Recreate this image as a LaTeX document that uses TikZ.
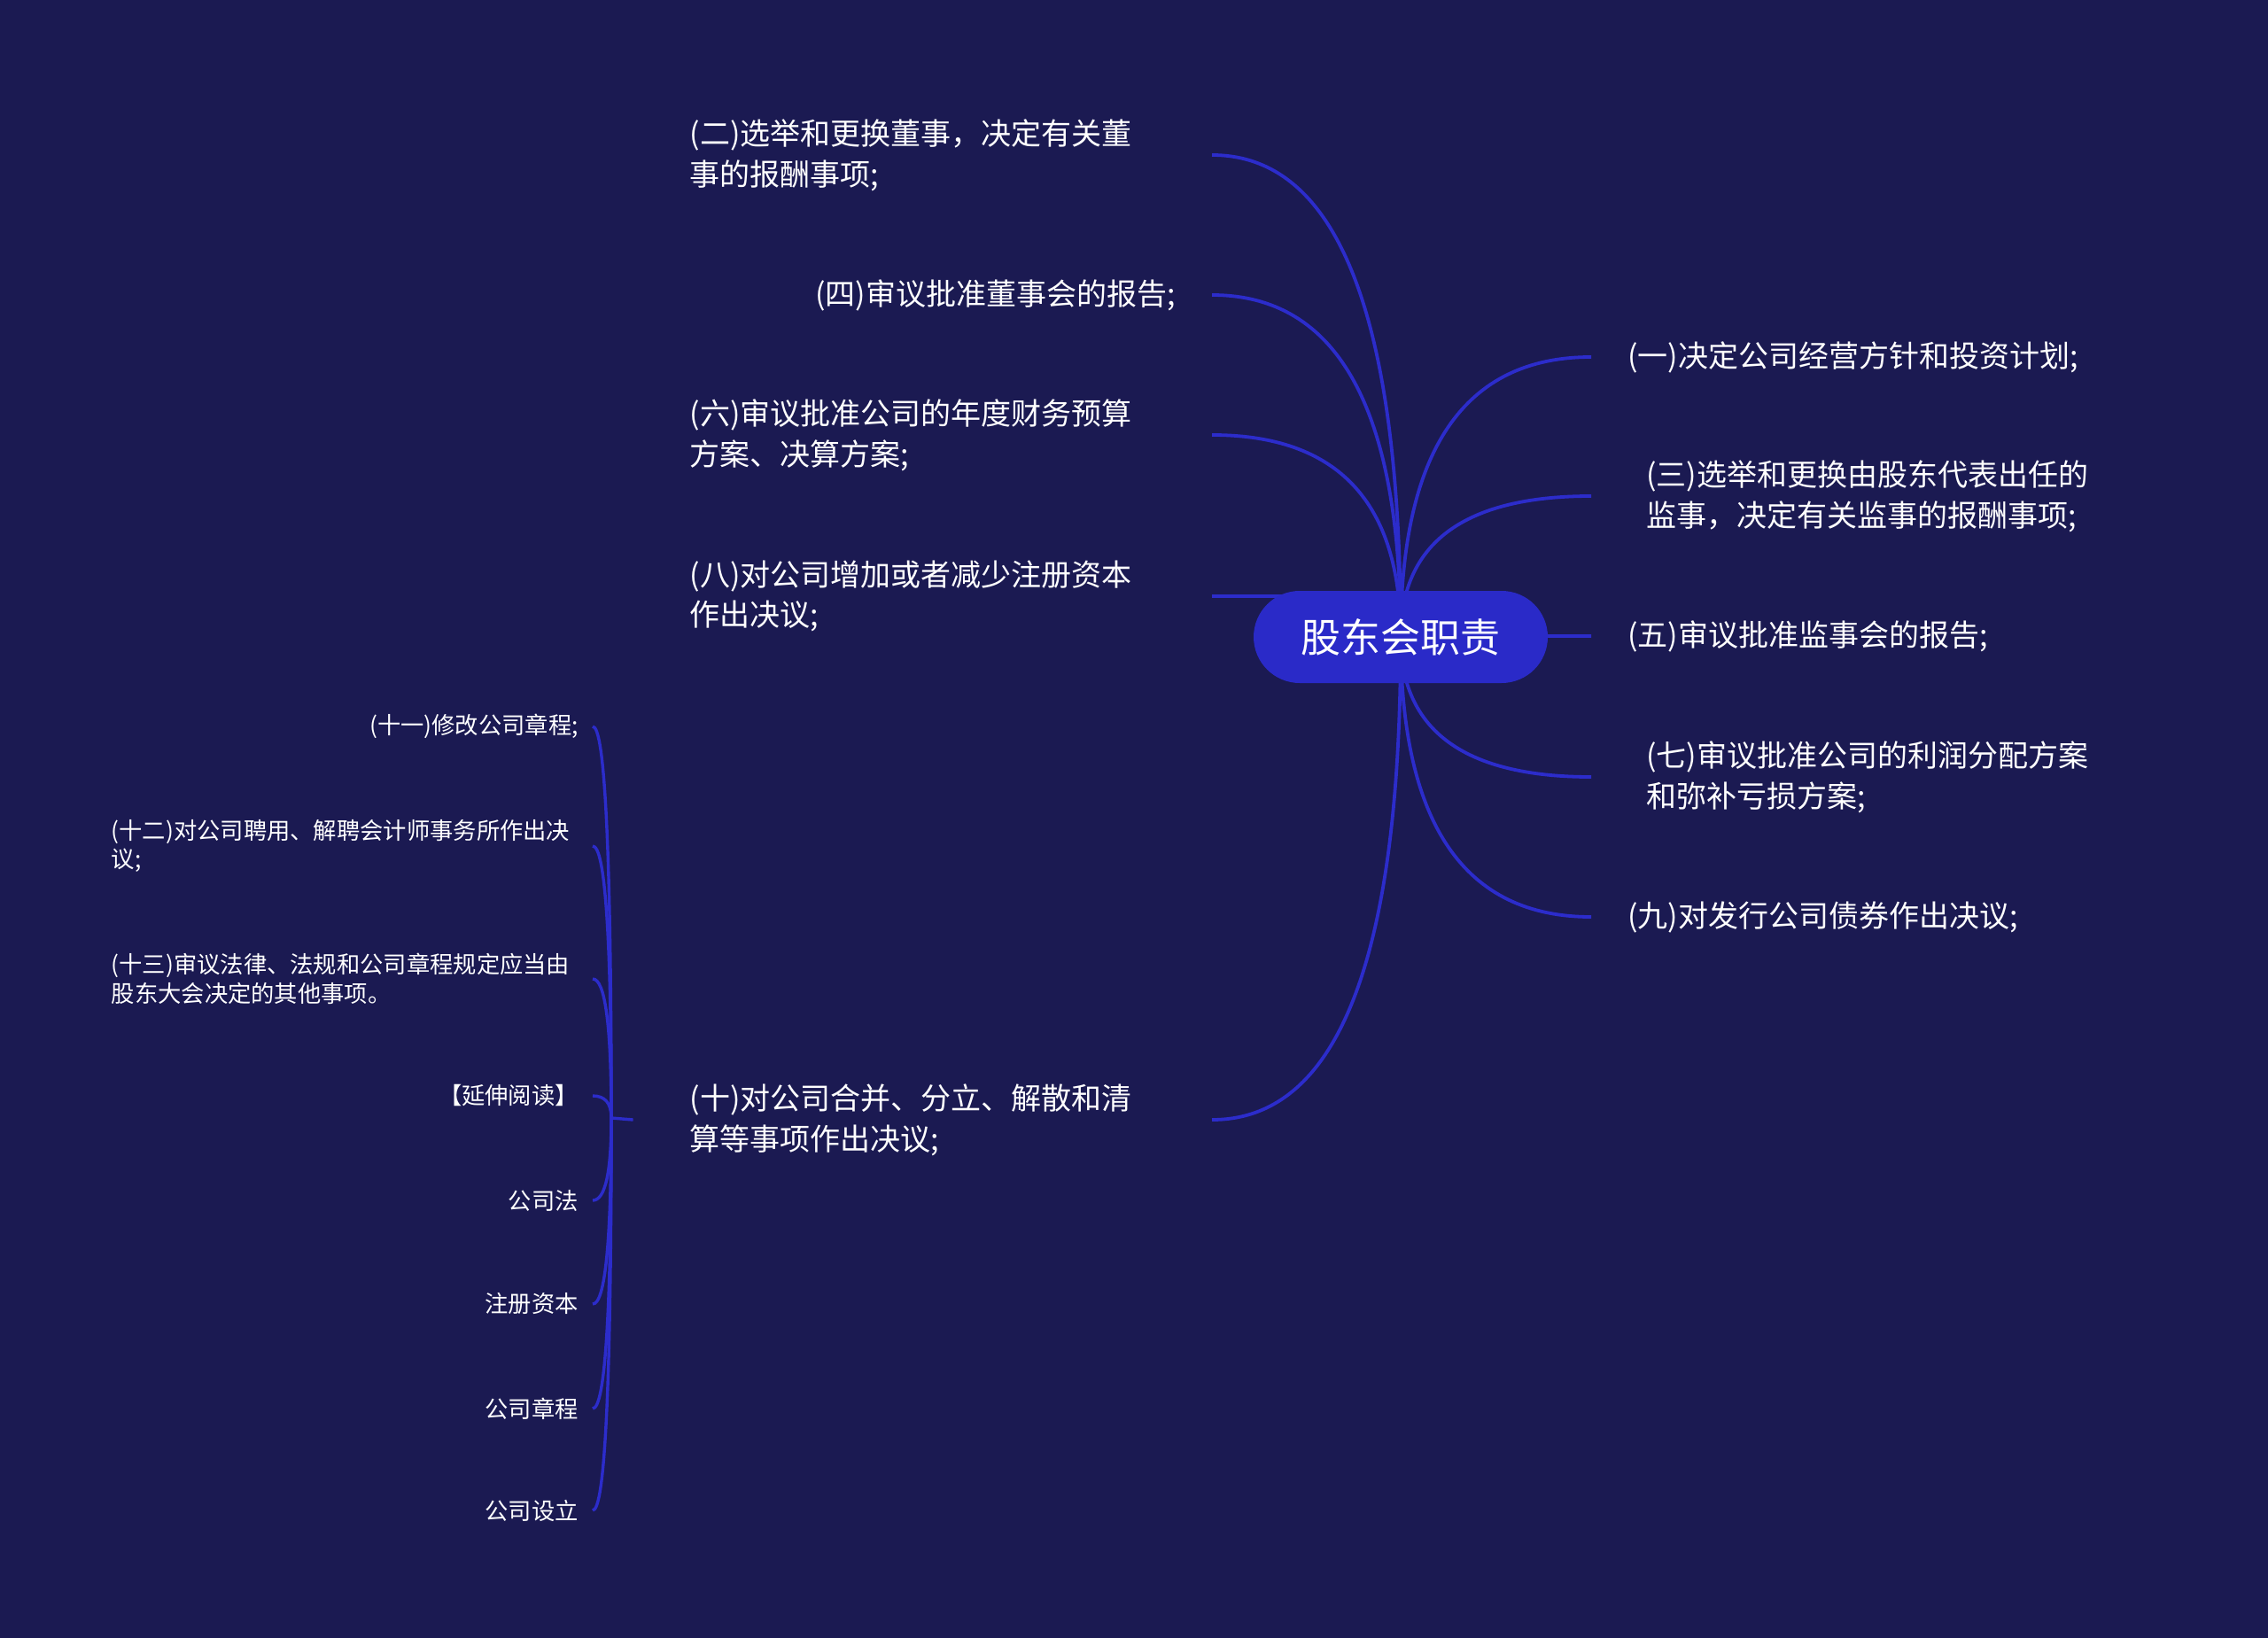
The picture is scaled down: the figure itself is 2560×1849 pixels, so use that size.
\documentclass[tikz,border=0pt]{standalone}
\usepackage{fontspec}
\usetikzlibrary{calc}
\setmainfont{Noto Sans CJK SC}
\definecolor{bgc}{HTML}{1B1A52}
\definecolor{lnc}{HTML}{2C2CCB}
\definecolor{pillc}{HTML}{2A2AC8}
\pgfdeclarelayer{bglayer}
\pgfdeclarelayer{edgelayer}
\pgfsetlayers{bglayer,edgelayer,main}
\begin{document}
\begin{tikzpicture}[x=1pt,y=-1pt,
  pill/.style={rectangle, rounded corners=52pt, fill=pillc, minimum width=332pt, minimum height=104pt, text=white, font=\fontsize{45}{52}\selectfont, inner sep=0pt},
  txtmain/.style={text=white, font=\fontsize{34}{45.7}\selectfont},
  itemL/.style={txtmain, anchor=east, inner xsep=64pt, text width=525pt, align=left},
  itemLs/.style={txtmain, anchor=east, inner xsep=41pt, align=right},
  itemR/.style={txtmain, anchor=west, inner xsep=41pt, align=left},
  itemRw/.style={txtmain, anchor=west, inner xsep=62pt, align=left},
  txtsmall/.style={text=white, font=\fontsize{26.3}{32.7}\selectfont},
  itemS/.style={txtsmall, anchor=east, inner xsep=16pt, align=right},
  itemSw/.style={txtsmall, anchor=east, inner xsep=16pt, text width=527pt, align=left},
  conn/.style={draw=lnc, line width=3.8pt},
  bconn/.style={draw=lnc, line width=3.4pt}
]
\useasboundingbox (0,0) rectangle (2560,1849);
\begin{pgfonlayer}{bglayer}
  \fill[bgc] (0,0) rectangle (2560,1849);
\end{pgfonlayer}

\node[pill] (c) at (1581,719) {股东会职责};

% left main items
\node[itemL] (n2) at (1368,175) {(二)选举和更换董事，决定有关董\\事的报酬事项;};
\node[itemLs] (n4) at (1368,333) {(四)审议批准董事会的报告;};
\node[itemL] (n6) at (1368,491) {(六)审议批准公司的年度财务预算\\方案、决算方案;};
\node[itemL] (n8) at (1368,673) {(八)对公司增加或者减少注册资本\\作出决议;};
\node[itemL] (n10) at (1368,1264) {(十)对公司合并、分立、解散和清\\算等事项作出决议;};

% right main items
\node[itemR] (n1) at (1796,403) {(一)决定公司经营方针和投资计划;};
\node[itemRw] (n3) at (1796,560) {(三)选举和更换由股东代表出任的\\监事，决定有关监事的报酬事项;};
\node[itemR] (n5) at (1796,718) {(五)审议批准监事会的报告;};
\node[itemRw] (n7) at (1796,877) {(七)审议批准公司的利润分配方案\\和弥补亏损方案;};
\node[itemR] (n9) at (1796,1035) {(九)对发行公司债券作出决议;};

% sub items
\coordinate (j) at (690,1262);
\node[itemS] (s11) at (669,820) {(十一)修改公司章程;};
\node[itemSw] (s12) at (669,955) {(十二)对公司聘用、解聘会计师事务所作出决\\议;};
\node[itemSw] (s13) at (669,1105) {(十三)审议法律、法规和公司章程规定应当由\\股东大会决定的其他事项。};
\node[itemS] (s14) at (669,1237) {【延伸阅读】};
\node[itemS] (s15) at (669,1355) {公司法};
\node[itemS] (s16) at (669,1472) {注册资本};
\node[itemS] (s17) at (669,1590) {公司章程};
\node[itemS] (s18) at (669,1705) {公司设立};

\begin{pgfonlayer}{edgelayer}
  \foreach \n in {n2,n4,n6,n10}{
    \draw[conn] (c.center) .. controls ($(c.center)!0.667!(c.center |- \n.east)$) and ($(\n.east)!0.667!(c.center |- \n.east)$) .. (\n.east);
  }
  \draw[conn] (c.center |- n8.east) -- (n8.east);
  \foreach \n in {n1,n3,n5,n7,n9}{
    \draw[conn] (c.center) .. controls ($(c.center)!0.667!(c.center |- \n.west)$) and ($(\n.west)!0.667!(c.center |- \n.west)$) .. (\n.west);
  }
  \draw[bconn] (n10.west) -- (j);
  \foreach \s in {s11,s12,s13,s14,s15,s16,s17,s18}{
    \draw[bconn] (j) .. controls ($(j)!0.667!(j |- \s.east)$) and ($(\s.east)!0.667!(j |- \s.east)$) .. (\s.east);
  }
\end{pgfonlayer}
\end{tikzpicture}
\end{document}
